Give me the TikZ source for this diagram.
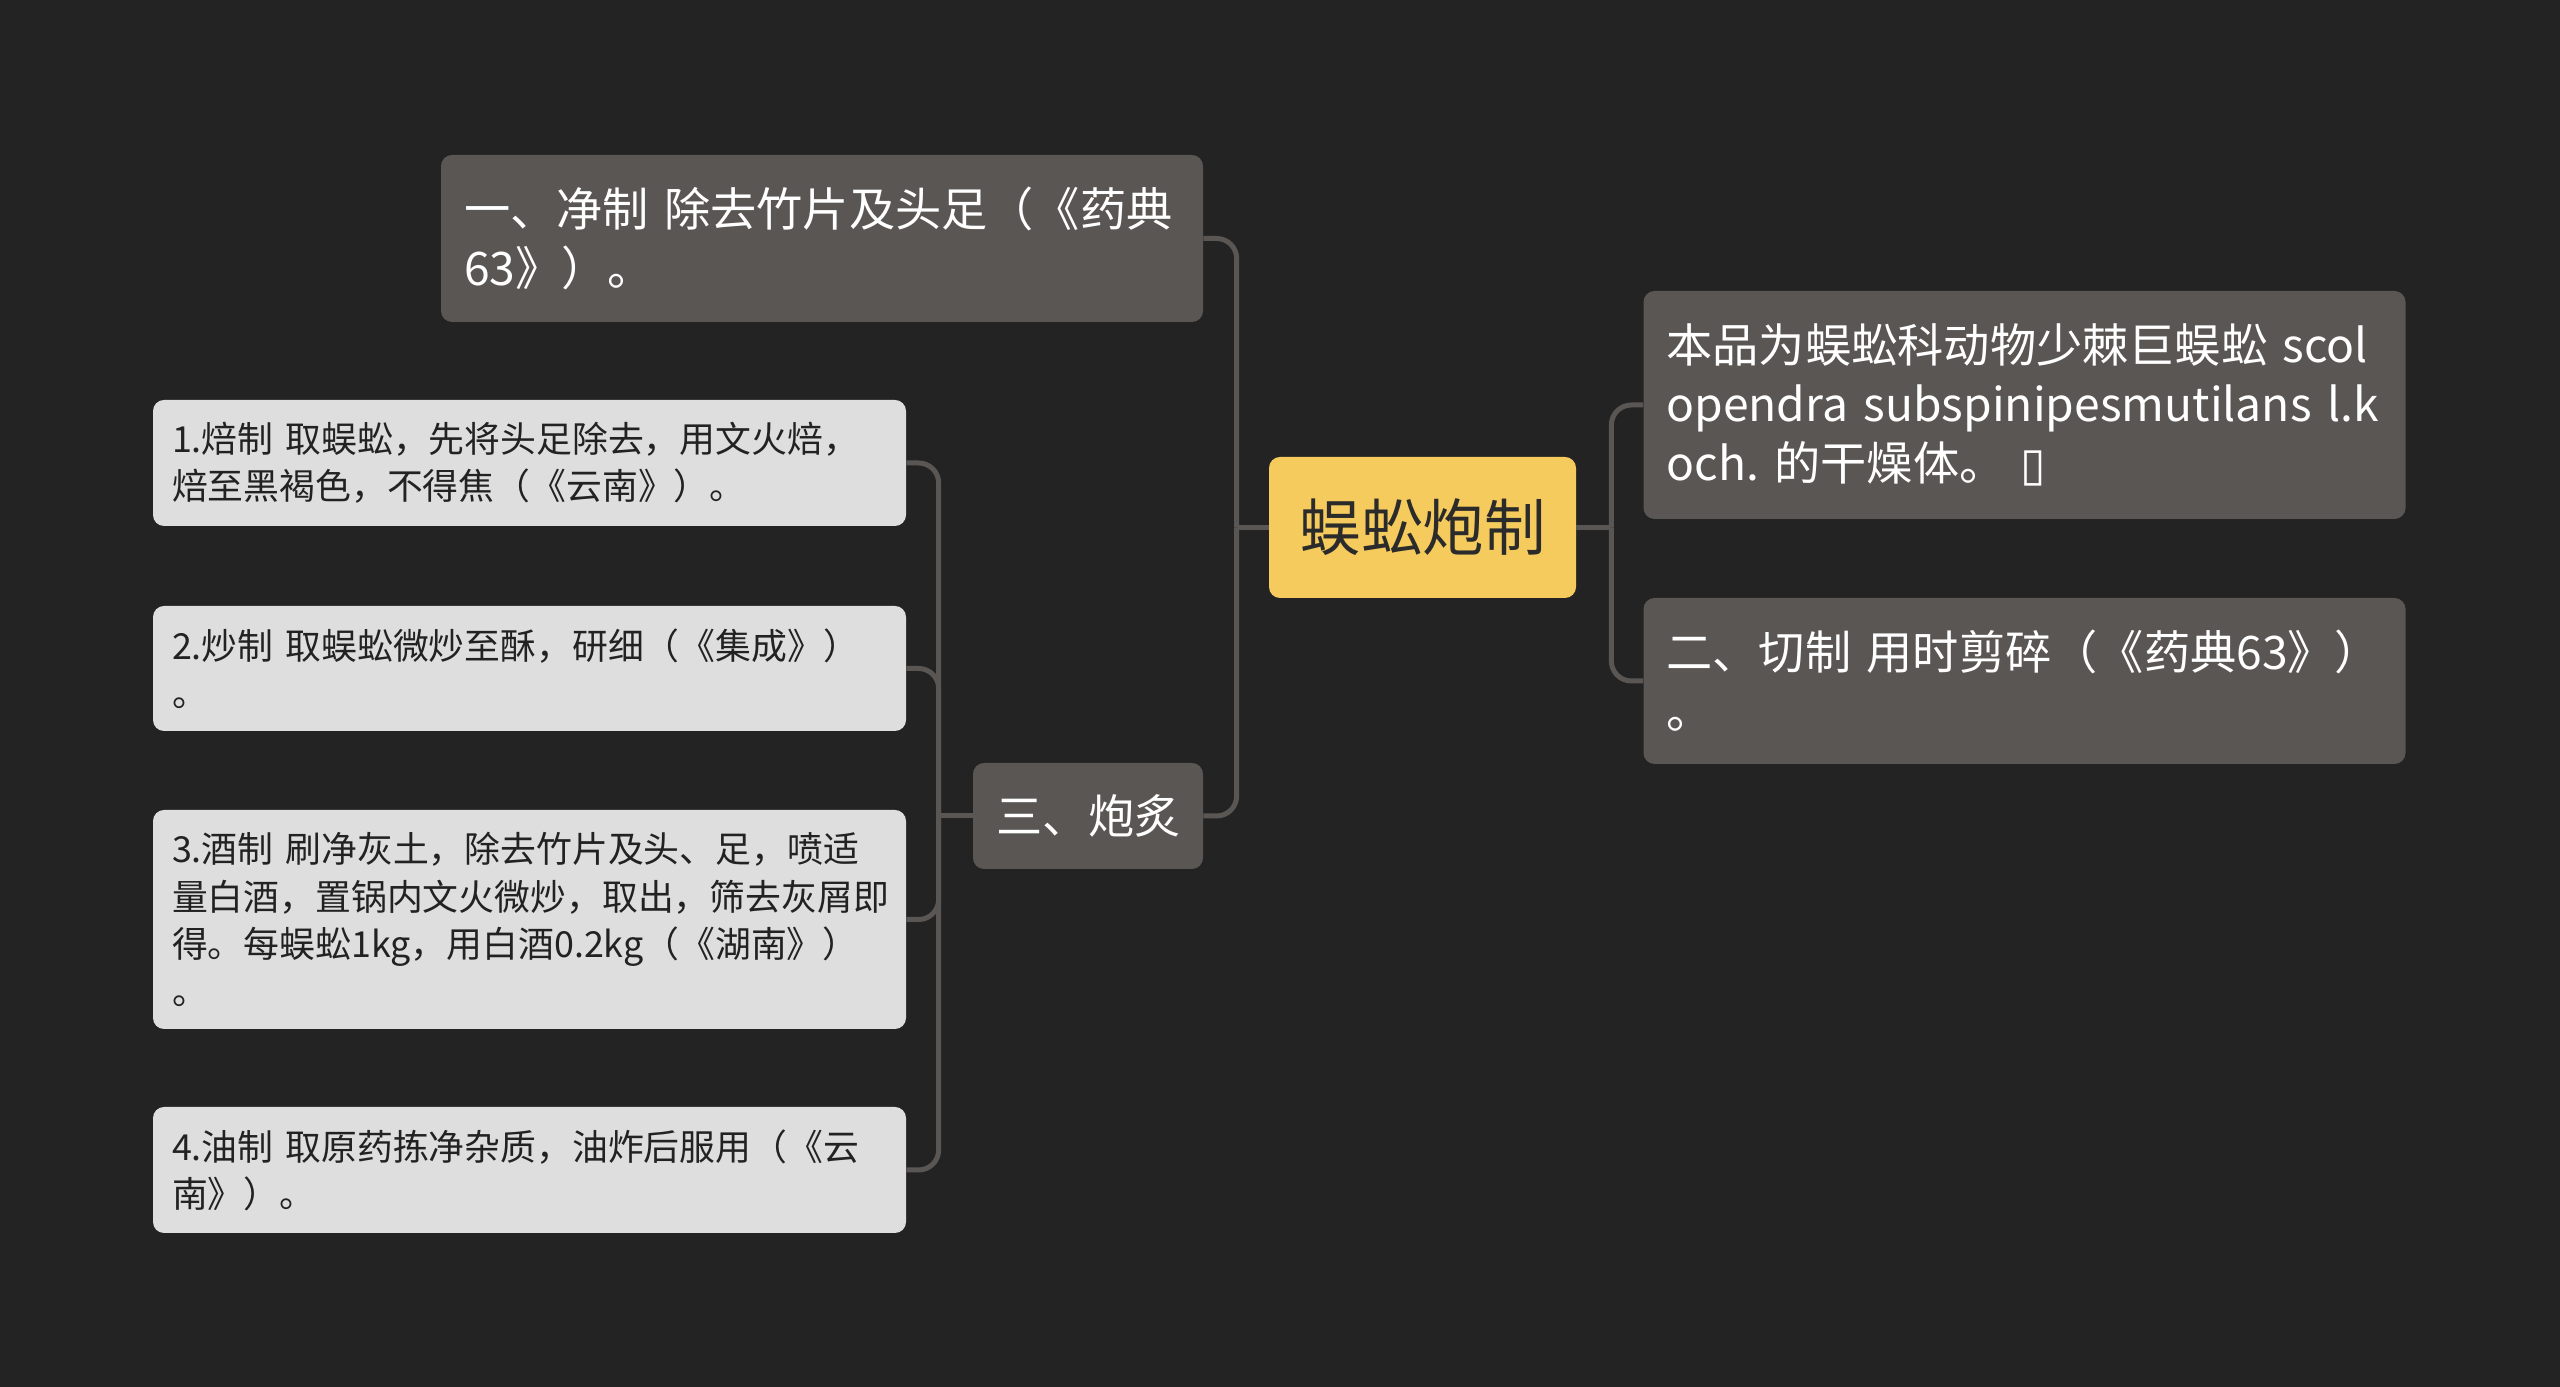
\documentclass[tikz,border=0pt]{standalone}
\usepackage{fontspec}
\setmainfont{Noto Sans CJK SC}
\newfontfamily\dejavu{DejaVu Sans}
\usepackage{tikz}
\usetikzlibrary{positioning, calc}
\usepackage{xcolor}
\definecolor{bgdark}{HTML}{232323}
\definecolor{topicgray}{HTML}{5A5653}
\definecolor{leafgray}{HTML}{DEDEDE}
\definecolor{leaftext}{HTML}{222222}
\definecolor{rootyellow}{HTML}{F5CB5E}
\definecolor{roottext}{HTML}{2B2B2B}
\definecolor{linkgray}{HTML}{5A5653}
\frenchspacing

\begin{document}
\begin{tikzpicture}[
        topic/.style={rectangle, rounded corners=0.22cm, fill=topicgray, text=white, align=left, inner xsep=0.46cm, inner ysep=0pt, font=\fontsize{26.3pt}{33.5pt}\selectfont},
        leaf/.style={rectangle, rounded corners=0.22cm, fill=leafgray, text=leaftext, align=left, inner xsep=0.38cm, inner ysep=0pt, text width=14.3cm, font=\fontsize{20.4pt}{26.8pt}\selectfont},
        root/.style={rectangle, rounded corners=0.22cm, fill=rootyellow, text=roottext, minimum width=6.14cm, minimum height=2.82cm, font=\fontsize{35pt}{42pt}\selectfont},
        link/.style={draw=linkgray, line width=0.1cm},
        elbow/.style={link, rounded corners=0.4cm},
    ]
        % Background
        \fill[bgdark] (0, 0) rectangle (51.2, 27.74);
        \useasboundingbox (0, 0) rectangle (51.2, 27.74);

        % Root
        \node[root] (root) at (28.45, 17.19) {蜈蚣炮制};

        % Left branch
        \node[topic, text width=14.32cm, minimum height=3.34cm] (jingzhi) at (16.44, 22.97) {一、净制 除去竹片及头足（《药典\\63》）。};
        \node[topic, text width=3.68cm, minimum height=2.12cm] (paozhi) at (21.76, 11.42) {三、炮炙};

        % Leaves of paozhi
        \node[leaf, minimum height=2.52cm] (hongzhi) at (10.59, 18.48) {1.焙制 取蜈蚣，先将头足除去，用文火焙，\\焙至黑褐色，不得焦（《云南》）。};
        \node[leaf, minimum height=2.50cm] (chaozhi) at (10.59, 14.37) {2.炒制 取蜈蚣微炒至酥，研细（《集成》）\\。};
        \node[leaf, minimum height=4.38cm] (jiuzhi) at (10.59, 9.35) {3.酒制 刷净灰土，除去竹片及头、足，喷适\\量白酒，置锅内文火微炒，取出，筛去灰屑即\\得。每蜈蚣1kg，用白酒0.2kg（《湖南》）\\。};
        \node[leaf, minimum height=2.52cm] (youzhi) at (10.59, 4.34) {4.油制 取原药拣净杂质，油炸后服用（《云\\南》）。};

        % Right branch
        \node[topic, text width=14.32cm, minimum height=4.56cm] (origin) at (40.49, 19.64) {本品为蜈蚣科动物少棘巨蜈蚣 scol\\opendra subspinipesmutilans l.k\\och. 的干燥体。 {\dejavu ▯}};
        \node[topic, text width=14.32cm, minimum height=3.32cm] (qiezhi) at (40.49, 14.12) {二、切制 用时剪碎（《药典63》）\\。};

        % Links
        \coordinate (lbus) at ($(root.west)+(-0.64, 0)$);
        \coordinate (rbus) at ($(root.east)+(0.70, 0)$);
        \coordinate (pbus) at ($(paozhi.west)+(-0.68, 0)$);
        \draw[link] (root.west) -- (lbus);
        \draw[elbow] (lbus) |- (jingzhi.east);
        \draw[elbow] (lbus) |- (paozhi.east);
        \draw[link] (root.east) -- (rbus);
        \draw[elbow] (rbus) |- (origin.west);
        \draw[elbow] (rbus) |- (qiezhi.west);
        \draw[link] (paozhi.west) -- (pbus);
        \draw[elbow] (pbus) |- (hongzhi.east);
        \draw[elbow] (pbus) |- (chaozhi.east);
        \draw[elbow] (pbus) |- (jiuzhi.east);
        \draw[elbow] (pbus) |- (youzhi.east);
    \end{tikzpicture}
\end{document}
